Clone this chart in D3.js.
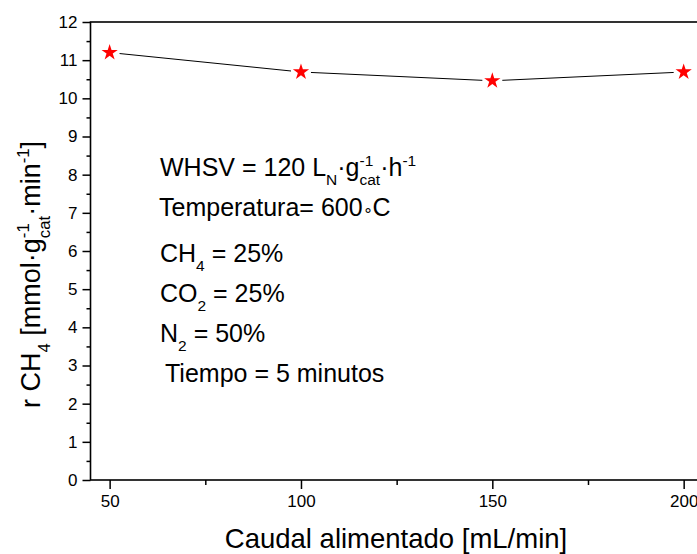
<!DOCTYPE html>
<html>
<head>
<meta charset="utf-8">
<script src="https://cdn.jsdelivr.net/npm/d3@7"></script>
<style>
  body { margin: 0; background: #fff; }
  svg text { font-family: Arial, "Liberation Sans", sans-serif; fill: #000; white-space: pre; }
</style>
</head>
<body>
<svg id="chart"></svg>
<script>
/////////////////////////////////
// DATA
/////////////////////////////////

var flowRates = [50, 100, 150, 200];          // Caudal alimentado [mL/min]
var rateCH4 = [11.20, 10.69, 10.46, 10.69];     // r CH4 [mmol/g/min]
var xTicks = [50, 100, 150, 200];
var xMinorTicks = [75, 125, 175];
var yTicks = d3.range(0, 13, 1);
var yMinorTicks = d3.range(0.5, 12, 1);

/////////////////////////////////
// SIZES
/////////////////////////////////

var width = 697;
var height = 554;

var svg = d3.select("#chart")
    .attr("width", width)
    .attr("height", height);

var x = d3.scaleLinear().domain([45, 205]).range([90.5, 702.8]);
var y = d3.scaleLinear().domain([0, 12]).range([480, 22]);

// draws text with sub / superscripts, each piece as its own text element
function richText(g, x0, y0, parts, size) {
    var cx = x0, supX = 0, supW = 0;
    parts.forEach(function(p) {
        var small = p.k != "n";
        var fs = p.fs ? p.fs * size : (small ? size * 0.62 : size);
        var dy = p.k == "sup" ? -size * 0.40 : (p.k == "sub" ? size * 0.36 : 0);
        var sx = p.stack ? supX : cx;
        var t = g.append("text")
            .attr("x", sx)
            .attr("y", y0 + dy)
            .attr("font-size", fs)
            .text(p.t);
        var w = t.node().getComputedTextLength();
        if (p.k == "sup") { supX = sx; supW = w; }
        cx = p.stack ? Math.max(supX + supW, sx + w) : sx + w;
    });
}

/////////////////////////////////
// AXES
/////////////////////////////////

var xAxis = svg.append("g")
    .attr("transform", "translate(0," + y(0) + ")")
    .call(d3.axisBottom(x).tickValues(xTicks).tickSize(9).tickPadding(6));
svg.append("g")
    .attr("transform", "translate(0," + y(0) + ")")
    .call(d3.axisBottom(x).tickValues(xMinorTicks).tickSize(5).tickFormat(""));

var yAxis = svg.append("g")
    .attr("transform", "translate(" + x(45) + ",0)")
    .call(d3.axisLeft(y).tickValues(yTicks).tickSize(8).tickPadding(5));
svg.append("g")
    .attr("transform", "translate(" + x(45) + ",0)")
    .call(d3.axisLeft(y).tickValues(yMinorTicks).tickSize(4).tickFormat(""));

svg.selectAll(".domain").remove();
svg.selectAll(".tick line").attr("stroke", "#000").attr("stroke-width", 1.5);
xAxis.selectAll("text").attr("font-size", 17).attr("font-family", "Arial, 'Liberation Sans', sans-serif");
yAxis.selectAll("text").attr("font-size", 17).attr("font-family", "Arial, 'Liberation Sans', sans-serif");

// frame
svg.append("rect")
    .attr("x", x(45))
    .attr("y", y(12))
    .attr("width", x(205) - x(45))
    .attr("height", y(0) - y(12))
    .attr("fill", "none")
    .attr("stroke", "#000")
    .attr("stroke-width", 1.6);

/////////////////////////////////
// LINE WITH GAPS + STARS
/////////////////////////////////

var pts = flowRates.map(function(d, i) { return [x(d), y(rateCH4[i])]; });
var gap = 10;
for (var i = 0; i < pts.length - 1; i++) {
    var a = pts[i], b = pts[i + 1];
    var dx = b[0] - a[0], dy = b[1] - a[1];
    var len = Math.sqrt(dx * dx + dy * dy);
    var ux = dx / len, uy = dy / len;
    svg.append("line")
        .attr("x1", a[0] + ux * gap).attr("y1", a[1] + uy * gap)
        .attr("x2", b[0] - ux * gap).attr("y2", b[1] - uy * gap)
        .attr("stroke", "#000")
        .attr("stroke-width", 1);
}

svg.selectAll(".star")
    .data(flowRates)
    .enter().append("path")
    .attr("class", "star")
    .attr("transform", function(d, i) { return "translate(" + x(d) + "," + y(rateCH4[i]) + ")"; })
    .attr("d", d3.symbol().type(d3.symbolStar).size(82))
    .attr("fill", "#ff0000");

/////////////////////////////////
// ANNOTATIONS
/////////////////////////////////

var notes = svg.append("g");
var fsNote = 25;
richText(notes, 160, 176, [
    {k: "n", t: "WHSV = 120 L"}, {k: "sub", t: "N"}, {k: "n", t: "·g"},
    {k: "sup", t: "-1"}, {k: "sub", t: "cat", stack: true}, {k: "n", t: "·h"}, {k: "sup", t: "-1"}
], fsNote);
richText(notes, 159, 216, [
    {k: "n", t: "Temperatura= 600"}, {k: "n", t: "\u2218", fs: 0.62}, {k: "n", t: "C"}
], fsNote);
richText(notes, 160, 262, [{k: "n", t: "CH"}, {k: "sub", t: "4"}, {k: "n", t: " = 25%"}], fsNote);
richText(notes, 160, 302, [{k: "n", t: "CO"}, {k: "sub", t: "2"}, {k: "n", t: " = 25%"}], fsNote);
richText(notes, 160, 342, [{k: "n", t: "N"}, {k: "sub", t: "2"}, {k: "n", t: " = 50%"}], fsNote);
richText(notes, 165, 382, [{k: "n", t: "Tiempo = 5 minutos"}], fsNote);

/////////////////////////////////
// AXIS TITLES
/////////////////////////////////

svg.append("text")
    .attr("x", 396)
    .attr("y", 548)
    .attr("text-anchor", "middle")
    .attr("font-size", 27.5)
    .text("Caudal alimentado [mL/min]");

var yLab = svg.append("g").attr("transform", "translate(40,408) rotate(-90)");
richText(yLab, 0, 0, [
    {k: "n", t: "r CH"}, {k: "sub", t: "4"}, {k: "n", t: " [mmol·g"},
    {k: "sup", t: "-1"}, {k: "sub", t: "cat", stack: true}, {k: "n", t: "·min"}, {k: "sup", t: "-1"}, {k: "n", t: "]"}
], 27);
</script>
</body>
</html>
